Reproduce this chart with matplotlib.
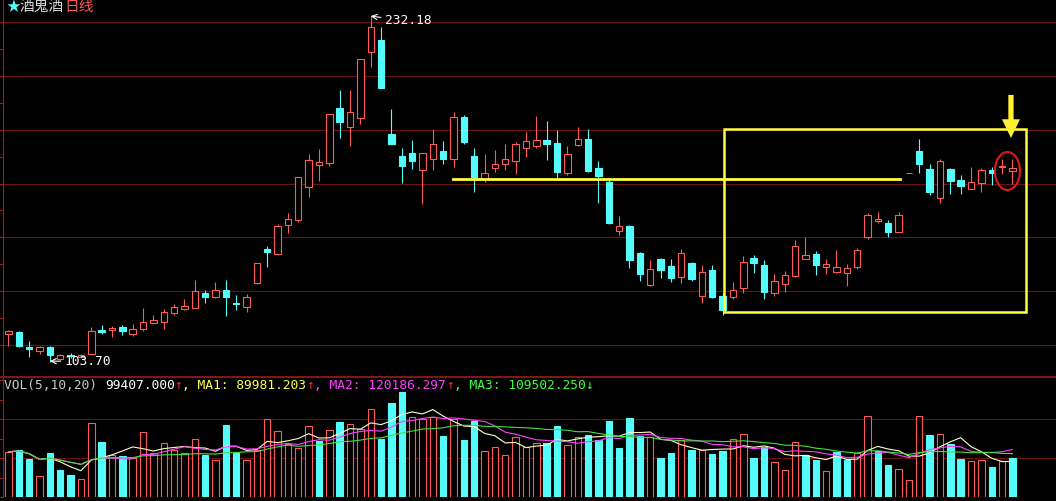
import numpy as np
import pandas as pd
import matplotlib
matplotlib.use('Agg')
import matplotlib.pyplot as plt
from matplotlib.patches import Rectangle, Ellipse

# daily candles, oldest first
opens = [114.1, 114.8, 109.3, 107.8, 109.3, 104.8, 106.3, 105.6, 106.7, 115.6,
         115.6, 116.7, 114.1, 116.0, 118.2, 118.6, 121.9, 123.4, 123.8, 129.3,
         127.8, 130.4, 125.6, 124.1, 133.0, 145.7, 143.8, 154.6, 156.4, 168.7,
         176.9, 177.6, 198.1, 191.0, 194.3, 218.9, 223.3, 188.4, 180.2, 181.3,
         175.0, 179.1, 182.1, 179.1, 194.7, 180.2, 171.7, 175.8, 177.2, 178.4,
         183.2, 183.9, 186.2, 185.1, 173.9, 184.3, 186.5, 175.8, 170.6, 152.4,
         154.2, 144.2, 132.3, 142.0, 139.4, 135.3, 140.5, 128.2, 137.9, 128.2,
         127.8, 131.2, 142.3, 139.7, 129.3, 132.7, 135.6, 142.0, 143.8, 139.0,
         137.1, 136.8, 139.0, 150.1, 156.1, 155.3, 152.0, 173.8, 182.1, 175.4,
         164.6, 175.4, 171.3, 168.0, 170.2, 175.0, 176.1, 174.6]
highs = [115.6, 115.2, 111.5, 109.6, 109.6, 106.7, 107.2, 106.7, 116.7, 117.4,
         117.1, 117.4, 117.8, 123.8, 121.2, 123.4, 125.2, 127.1, 134.2, 130.4,
         133.4, 134.2, 128.6, 129.0, 140.5, 146.8, 155.0, 159.0, 172.5, 181.0,
         182.8, 196.0, 204.7, 204.7, 216.4, 232.18, 228.1, 197.7, 183.2, 186.2,
         181.5, 190.2, 185.8, 196.6, 195.5, 183.2, 181.0, 182.4, 184.7, 185.4,
         189.1, 195.1, 193.2, 189.9, 183.9, 191.0, 190.2, 178.4, 172.0, 157.9,
         154.4, 144.4, 141.6, 142.3, 142.0, 145.7, 140.8, 139.7, 139.7, 129.3,
         133.4, 143.1, 143.4, 141.6, 136.4, 137.5, 149.0, 150.1, 144.9, 142.0,
         145.3, 140.1, 146.0, 159.0, 159.4, 156.4, 159.4, 173.8, 186.5, 177.2,
         179.1, 175.6, 173.2, 176.1, 175.8, 176.1, 179.1, 179.1]
lows = [109.6, 109.3, 105.5, 106.7, 103.7, 104.4, 105.0, 105.3, 106.3, 114.1,
        113.0, 113.7, 113.4, 115.2, 117.8, 116.0, 121.2, 123.0, 123.6, 125.6,
        127.5, 120.8, 123.0, 122.3, 132.7, 139.0, 143.4, 151.6, 155.7, 165.0,
        170.9, 176.5, 186.9, 183.9, 192.1, 213.3, 205.3, 184.5, 170.2, 175.4,
        162.4, 175.0, 177.2, 176.1, 184.7, 166.8, 170.6, 174.3, 175.0, 173.5,
        179.8, 183.2, 178.7, 171.3, 173.2, 183.9, 174.3, 162.8, 155.1, 150.9,
        138.6, 133.8, 131.9, 134.9, 133.4, 133.0, 133.8, 125.6, 127.6, 121.2,
        127.1, 129.3, 136.8, 127.1, 128.2, 129.7, 135.4, 141.8, 136.0, 136.4,
        136.9, 131.9, 138.2, 149.4, 155.3, 150.1, 151.8, 173.8, 173.9, 165.7,
        162.8, 166.1, 166.1, 167.8, 166.8, 169.4, 173.5, 169.8]
closes = [115.2, 109.6, 108.5, 109.3, 106.3, 106.2, 106.0, 106.3, 115.2, 114.8,
          116.3, 115.2, 116.0, 118.6, 119.3, 122.3, 124.1, 124.5, 130.1, 127.8,
          130.4, 127.8, 125.2, 127.8, 140.5, 144.6, 154.2, 156.8, 172.4, 178.7,
          178.0, 195.8, 192.9, 196.6, 216.3, 228.1, 205.5, 184.7, 176.5, 178.4,
          181.3, 184.7, 179.1, 194.7, 185.4, 172.4, 173.9, 177.2, 179.1, 184.7,
          185.8, 186.2, 184.7, 174.3, 181.0, 186.5, 174.6, 172.8, 155.3, 154.2,
          141.6, 136.4, 138.2, 138.0, 134.9, 144.2, 134.5, 137.1, 127.8, 123.0,
          130.4, 140.8, 140.5, 129.7, 133.8, 136.0, 146.8, 143.4, 139.7, 140.1,
          139.0, 138.6, 145.3, 158.3, 156.8, 152.0, 158.3, 173.8, 177.2, 166.8,
          178.4, 170.9, 169.1, 170.6, 175.0, 173.9, 176.5, 175.8]
volumes = [116000, 120000, 97000, 53000, 112000, 69000, 56000, 47000, 189000, 141000,
           108000, 105000, 99000, 166000, 112000, 138000, 120000, 112000, 150000, 108000,
           96000, 185000, 112000, 96000, 120000, 200000, 169000, 136000, 125000, 182000,
           144000, 172000, 192000, 187000, 174000, 225000, 150000, 241000, 268000, 206000,
           200000, 206000, 157000, 200000, 146000, 194000, 118000, 127000, 108000, 153000,
           127000, 138000, 139000, 182000, 133000, 153000, 159000, 146000, 195000, 126000,
           202000, 157000, 153000, 101000, 113000, 146000, 120000, 120000, 110000, 118000,
           148000, 161000, 101000, 127000, 89000, 69000, 141000, 108000, 96000, 66000,
           116000, 95000, 112000, 208000, 118000, 82000, 73000, 43000, 208000, 159000,
           161000, 136000, 97000, 92000, 95000, 77000, 93000, 99407]

ma_windows = [5, 10, 20]
ma_labels = ['89981.203', '120186.297', '109502.250']
ma_arrows = ['↑', '↑', '↓']
high_label = '232.18'
low_label = '103.70'

# hand drawn marks (price / bar index)
support_level = 171.5
support_span = (42.95, 86.1)
box_x = (69.13, 98.3)
box_y = (122.45, 190.13)

RED = '#ff5a5a'
CYAN = '#54fcfc'
YELLOW = '#ffff40'
GRID = '#6a1212'
AXIS = '#9a1c1c'

o = np.array(opens); h = np.array(highs); l = np.array(lows); c = np.array(closes)
v = np.array(volumes, dtype=float)
n = len(o)
idx = np.arange(n)
up = c >= o
prev_c = np.r_[c[0] - 1, c[:-1]]
vol_up = c >= prev_c

fig = plt.figure(figsize=(10.56, 5.01), dpi=100, facecolor='black')
ax = fig.add_axes([0, 125 / 501, 1, 376 / 501])
axv = fig.add_axes([0, 4 / 501, 1, 120 / 501])
xlim = (-0.821, 101.21)
for a in (ax, axv):
    a.set_facecolor('black')
    a.set_xlim(*xlim)
    for s in ('right', 'bottom', 'top'):
        a.spines[s].set_visible(False)
    a.spines['left'].set_position(('data', -0.483))
    a.spines['left'].set_color(AXIS)
    a.set_xticks([])
    a.tick_params(axis='y', colors=AXIS, length=3, width=0.8, labelleft=False)

ax.set_ylim(98.49, 238.17)
ax.set_yticks(np.arange(110, 240, 10))
for g in range(110, 231, 20):
    ax.axhline(g, color=GRID, lw=0.8, zorder=0)

axv.set_ylim(0, 307700)
axv.set_yticks(np.arange(0, 300001, 50000))
axv.spines['top'].set_visible(True)
axv.spines['top'].set_color(AXIS)
axv.spines['top'].set_linewidth(1.2)
for g in (100000, 200000):
    axv.axhline(g, color=GRID, lw=0.8, zorder=0)

# candles
w = 0.62
ccol = np.where(up, RED, CYAN)
ax.vlines(idx, l, h, colors=ccol, lw=0.8, zorder=2)
for i in range(n):
    lo, hi = min(o[i], c[i]), max(o[i], c[i])
    if up[i]:
        r = Rectangle((i - w / 2, lo), w, hi - lo, facecolor='black', edgecolor=RED, lw=0.8, zorder=3)
    else:
        r = Rectangle((i - w / 2, lo), w, max(hi - lo, 0.2), facecolor=CYAN, edgecolor=CYAN, lw=0.8, zorder=3)
    ax.add_patch(r)

# volume bars
for i in range(n):
    if vol_up[i]:
        r = Rectangle((i - w / 2, 0), w, v[i], facecolor='black', edgecolor=RED, lw=0.8, zorder=2)
    else:
        r = Rectangle((i - w / 2, 0), w, v[i], facecolor=CYAN, edgecolor=CYAN, lw=0.8, zorder=2)
    axv.add_patch(r)

vs = pd.Series(v)
ma_colors = ['#ffffc8', '#ff40ff', '#40e040']
for win, col in zip(ma_windows, ma_colors):
    axv.plot(idx, vs.rolling(win, min_periods=1).mean(), color=col, lw=0.8, zorder=4)

# volume header
mono = 'DejaVu Sans Mono'
fs = 9.3
t = axv.text(4 / 1056, 0.933, 'VOL(5,10,20) ', transform=axv.transAxes, color='#c8c8c8',
             family=mono, fontsize=fs, va='center', ha='left')
segs = [('%.3f' % v[-1], 'white'), ('↑', '#ff3030')]
txt_cols = ['#ffff50', '#ff40ff', '#40ff40']
arr_cols = ['#ff3030', '#ff3030', '#40ff40']
for k in range(3):
    segs.append((', MA%d: %s' % (k + 1, ma_labels[k]), txt_cols[k]))
    segs.append((ma_arrows[k], arr_cols[k]))
for s, col in segs:
    t = axv.annotate(s, xy=(1, 0.5), xycoords=t, color=col, family=mono,
                     fontsize=fs, va='center', ha='left')

# title
tt = ax.text(6 / 1056, 0.981, '★', transform=ax.transAxes, color=CYAN, fontsize=10,
             family=['Noto Sans CJK SC', 'DejaVu Sans'], va='center', ha='left')
tt = ax.annotate('酒鬼酒', xy=(1, 0.5), xycoords=tt, color='#d8d8d8', fontsize=10.6,
                 family=['Noto Sans CJK SC', 'DejaVu Sans'], va='center', ha='left')
ax.annotate('日线', xy=(1, 0.5), xycoords=tt, color=RED, fontsize=10.6,
            family=['Noto Sans CJK SC', 'DejaVu Sans'], va='center', ha='left')

# high / low labels
ih = int(np.argmax(h)); il = int(np.argmin(l))
ax.annotate(high_label, xy=(ih, h[ih]), xytext=(ih + 1.38, h[ih] - 1.8), color='white',
            family=mono, fontsize=fs, va='center', ha='left',
            arrowprops=dict(arrowstyle='->', color='white', lw=0.8, shrinkA=1, shrinkB=0))
ax.annotate(low_label, xy=(il, l[il] + 0.3), xytext=(il + 1.45, l[il] + 0.3), color='white',
            family=mono, fontsize=fs, va='center', ha='left',
            arrowprops=dict(arrowstyle='->', color='white', lw=0.8, shrinkA=1, shrinkB=0))

# yellow marks
ax.plot(support_span, [support_level, support_level], color=YELLOW, lw=2.0, zorder=5)
ax.add_patch(Rectangle((box_x[0], box_y[0]), box_x[1] - box_x[0], box_y[1] - box_y[0],
                       fill=False, edgecolor=YELLOW, lw=1.8, zorder=5))
ax.annotate('', xy=(96.86, 186.9), xytext=(96.86, 202.9),
            arrowprops=dict(arrowstyle='simple,head_length=1.35,head_width=1.3,tail_width=0.38',
                            mutation_scale=10, fc='#fff030', ec='none', shrinkA=0, shrinkB=0),
            zorder=6)
ax.add_patch(Ellipse((96.52, 174.64), 2.42, 14.1, fill=False, edgecolor='#e01818', lw=1.5, zorder=6))

fig.savefig('out.png', dpi=100, facecolor='black')
